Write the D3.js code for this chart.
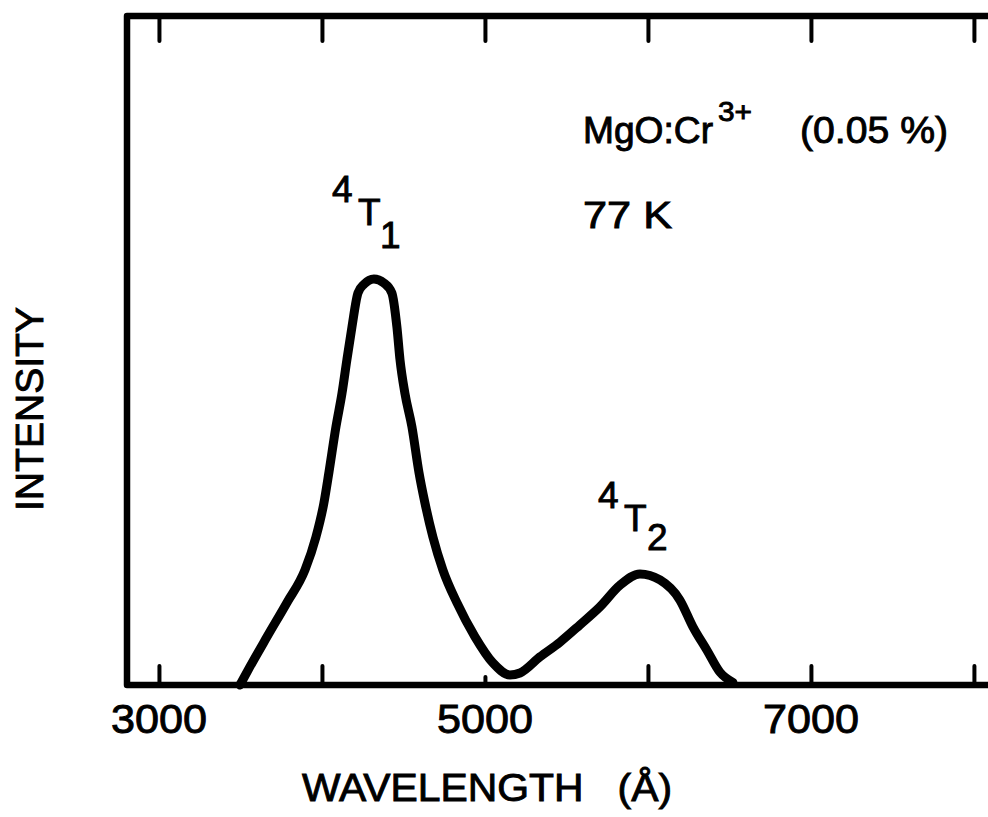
<!DOCTYPE html>
<html>
<head>
<meta charset="utf-8">
<script src="https://cdn.jsdelivr.net/npm/d3@7"></script>
<style>
html,body{margin:0;padding:0;background:#fff;}
svg{display:block;}
text{font-family:"Liberation Sans",Arial,sans-serif;fill:#000;stroke:#000;stroke-width:0.9px;}
</style>
</head>
<body>
<svg id="chart" width="988" height="817"></svg>
<script>
// ---- data ----
const wavelength = [3497,3546,3663,3785,3896,3963,4012,4043,4086,4123,4153,4184,4221,4258,4319,4380,4429,4460,4479,4509,4552,4595,4632,4681,4742,4828,4939,5049,5153,5215,5337,5460,5583,5706,5828,5951,6074,6196,6276,6362,6442,6521];
const intensity  = [0,2.2,7.2,12.3,17.2,22.1,27.2,31.8,38.6,43.6,48.6,53.5,58.6,59.9,60.7,60.1,58.6,53.5,48.6,43.6,38.6,31.8,27.2,22.1,17.2,12.3,7.2,3.3,1.5,1.8,4.2,6.4,9.0,11.7,14.9,16.6,15.7,12.7,8.7,5.2,1.9,0.4];
const tickValues = [3000,4000,5000,6000,7000,8000];
const tickLabels = ["3000","5000","7000"];
const xTitle = "WAVELENGTH   (Å)";
const yTitle = "INTENSITY";

(function(){
const svg = d3.select("#chart");
const pL = 127, pT = 16, pB = 685, pR = 1000;
const x = d3.scaleLinear().domain([2804, 8160]).range([pL, pR]);
const y = d3.scaleLinear().domain([0, 100]).range([pB, pT]);

svg.append("rect").attr("width",988).attr("height",817).attr("fill","#fff");

// frame
svg.append("path").attr("d",`M${pR},${pT}H${pL}V${pB}H${pR}`)
  .attr("fill","none").attr("stroke","#000")
  .attr("stroke-width",6.5).attr("stroke-linejoin","round").attr("stroke-linecap","round");

// top ticks
const topAxis = svg.append("g").attr("transform",`translate(0,${pT})`)
  .call(d3.axisBottom(x).tickValues(tickValues).tickSize(25).tickFormat(""));
topAxis.select(".domain").remove();
topAxis.selectAll("line").attr("stroke","#000").attr("stroke-width",4).attr("stroke-linecap","round");

// bottom ticks
const botAxis = svg.append("g").attr("transform",`translate(0,${pB})`)
  .call(d3.axisTop(x).tickValues(tickValues).tickSize(19).tickFormat(""));
botAxis.select(".domain").remove();
botAxis.selectAll("line").attr("stroke","#000").attr("stroke-width",4).attr("stroke-linecap","round")
  .attr("y2", d => d === 5000 ? -8 : -19);

// tick labels
svg.append("g").selectAll("text").data(tickLabels).join("text")
  .attr("x", d => x(+d)).attr("y", 733)
  .attr("text-anchor","middle").attr("font-size",40)
  .attr("textLength",96).attr("lengthAdjust","spacingAndGlyphs")
  .text(d => d);

// curve
const pts = wavelength.map((w,i)=>[w,intensity[i]]);
const line = d3.line().x(d=>x(d[0])).y(d=>y(d[1])).curve(d3.curveMonotoneX);
svg.append("path").datum(pts).attr("d",line)
  .attr("fill","none").attr("stroke","#000").attr("stroke-width",9)
  .attr("stroke-linejoin","round").attr("stroke-linecap","round");

// axis titles
svg.append("text")
  .attr("transform","translate(43,409) rotate(-90)")
  .attr("text-anchor","middle").attr("font-size",39)
  .attr("textLength",204).attr("lengthAdjust","spacingAndGlyphs")
  .text(yTitle);

svg.append("text").attr("x",487).attr("y",801)
  .attr("text-anchor","middle").attr("font-size",38)
  .attr("textLength",370).attr("lengthAdjust","spacingAndGlyphs")
  .style("white-space","pre")
  .text(xTitle);

// annotations
svg.append("text").attr("x",583).attr("y",143).attr("font-size",37)
  .attr("textLength",130).attr("lengthAdjust","spacingAndGlyphs").text("MgO:Cr");
svg.append("text").attr("x",718).attr("y",121).attr("font-size",28)
  .attr("textLength",34).attr("lengthAdjust","spacingAndGlyphs").text("3+");
svg.append("text").attr("x",800).attr("y",143).attr("font-size",37)
  .attr("textLength",148).attr("lengthAdjust","spacingAndGlyphs").text("(0.05 %)");
svg.append("text").attr("x",583).attr("y",228).attr("font-size",37)
  .attr("textLength",89).attr("lengthAdjust","spacingAndGlyphs").text("77 K");

// peak labels
function termLabel(pos, sub){
  const t = svg.append("text").attr("font-size",37);
  t.append("tspan").attr("x",pos[0]).attr("y",pos[1]).text("4");
  t.append("tspan").attr("x",pos[0]+26).attr("y",pos[1]+23).text("T");
  t.append("tspan").attr("x",pos[0]+(sub==="1"?48:49)).attr("y",pos[1]+(sub==="1"?46:42)).text(sub);
}
termLabel([332,202],"1");
termLabel([598,508],"2");
})();
</script>
</body>
</html>
